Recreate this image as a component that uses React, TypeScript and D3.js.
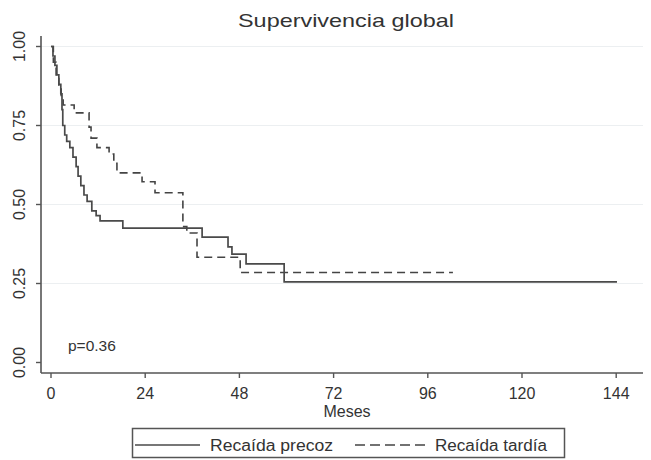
import React from 'react';
import * as d3 from 'd3';

// Kaplan-Meier steps (months, survival)
const precozTimes = [0, 0.5, 1.0, 1.5, 2.0, 2.5, 2.8, 3.0, 3.5, 4.0, 4.8, 5.6, 6.4, 6.9, 7.6, 8.4, 9.2, 10.4, 11.5, 12.5, 18.3, 38.5, 45.1, 46.1, 49.7, 59.4, 144.2];
const precozSurv = [1, 0.97, 0.94, 0.91, 0.88, 0.85, 0.8, 0.75, 0.72, 0.7, 0.68, 0.65, 0.62, 0.59, 0.56, 0.53, 0.51, 0.48, 0.465, 0.448, 0.425, 0.397, 0.366, 0.343, 0.312, 0.255, 0.255];

const tardiaTimes = [0, 0.6, 1.3, 2.0, 2.6, 3.1, 5.9, 9.7, 10.2, 11.7, 14.8, 16.0, 16.8, 23.2, 26.5, 33.6, 34.6, 37.2, 48.2, 102.4];
const tardiaSurv = [1, 0.95, 0.91, 0.87, 0.84, 0.815, 0.79, 0.745, 0.71, 0.68, 0.66, 0.63, 0.6, 0.572, 0.537, 0.43, 0.41, 0.333, 0.285, 0.285];

const xTicks = [0, 24, 48, 72, 96, 120, 144];
const yTicks = [0, 0.25, 0.5, 0.75, 1];
const yTickLabels = ['0.00', '0.25', '0.50', '0.75', '1.00'];

const seriesNames = ['Recaída precoz', 'Recaída tardía'];
const titleText = 'Supervivencia global';
const xTitle = 'Meses';
const pText = 'p=0.36';

const font = "Arial, 'Liberation Sans', sans-serif";
const ink = '#333';

const App = () => {
  const W = 651;
  const H = 460;

  // scales fitted to the tick positions in the reference
  const x = d3.scaleLinear().domain([0, 144]).range([51, 616.2]);
  const y = d3.scaleLinear().domain([0, 1]).range([362.5, 46.5]);

  const axisX = 41; // y-axis line
  const axisY = 373; // x-axis line

  const line = d3
    .line<[number, number]>()
    .x((d) => x(d[0]))
    .y((d) => y(d[1]))
    .curve(d3.curveStepAfter);

  const precoz = precozTimes.map((t, i) => [t, precozSurv[i]] as [number, number]);
  const tardia = tardiaTimes.map((t, i) => [t, tardiaSurv[i]] as [number, number]);

  return (
    <svg
      width={W}
      height={H}
      style={{ position: 'absolute', left: 0, top: 0, background: '#fff' }}
      fontFamily={font}
    >
      {/* title */}
      <text x={346} y={27} textAnchor="middle" fontSize={19} fill={ink} textLength={216} lengthAdjust="spacingAndGlyphs">
        {titleText}
      </text>

      {/* light gridlines */}
      {yTicks.filter((v) => v > 0).map((v) => (
        <line key={'g' + v} x1={axisX} x2={643} y1={y(v)} y2={y(v)} stroke="#eceff1" strokeWidth={1} />
      ))}

      {/* y axis */}
      <line x1={axisX} x2={axisX} y1={36} y2={axisY} stroke="#555" strokeWidth={1.6} />
      {yTicks.map((v, i) => (
        <g key={'y' + v}>
          <line x1={axisX - 5} x2={axisX} y1={y(v)} y2={y(v)} stroke="#555" strokeWidth={1.4} />
          <text
            transform={`translate(25, ${y(v)}) rotate(-90)`}
            textAnchor="middle"
            fontSize={16}
            fill={ink}
          >
            {yTickLabels[i]}
          </text>
        </g>
      ))}

      {/* x axis */}
      <line x1={axisX} x2={643} y1={axisY} y2={axisY} stroke="#555" strokeWidth={1.6} />
      {xTicks.map((v) => (
        <g key={'x' + v}>
          <line x1={x(v)} x2={x(v)} y1={axisY} y2={axisY + 5} stroke="#555" strokeWidth={1.4} />
          <text x={x(v)} y={399} textAnchor="middle" fontSize={16} fill={ink}>
            {v}
          </text>
        </g>
      ))}
      <text x={347} y={417} textAnchor="middle" fontSize={16} fill={ink}>
        {xTitle}
      </text>

      {/* survival curves */}
      <path d={line(tardia) || ''} fill="none" stroke="#444" strokeWidth={1.6} strokeDasharray="8,5" />
      <path d={line(precoz) || ''} fill="none" stroke="#4a4a4a" strokeWidth={1.7} />

      <text x={68} y={351} fontSize={15.5} fill={ink}>
        {pText}
      </text>

      {/* legend */}
      <rect x={132.5} y={428.5} width={432} height={29} fill="#fff" stroke="#555" strokeWidth={1.5} />
      <line x1={135} x2={200} y1={445} y2={445} stroke="#4a4a4a" strokeWidth={1.6} />
      <text x={210} y={451} fontSize={16} fill={ink} textLength={123} lengthAdjust="spacingAndGlyphs">
        {seriesNames[0]}
      </text>
      <line x1={355} x2={427} y1={445} y2={445} stroke="#444" strokeWidth={1.6} strokeDasharray="10,5" />
      <text x={435} y={451} fontSize={16} fill={ink} textLength={112} lengthAdjust="spacingAndGlyphs">
        {seriesNames[1]}
      </text>
    </svg>
  );
};

export default App;
